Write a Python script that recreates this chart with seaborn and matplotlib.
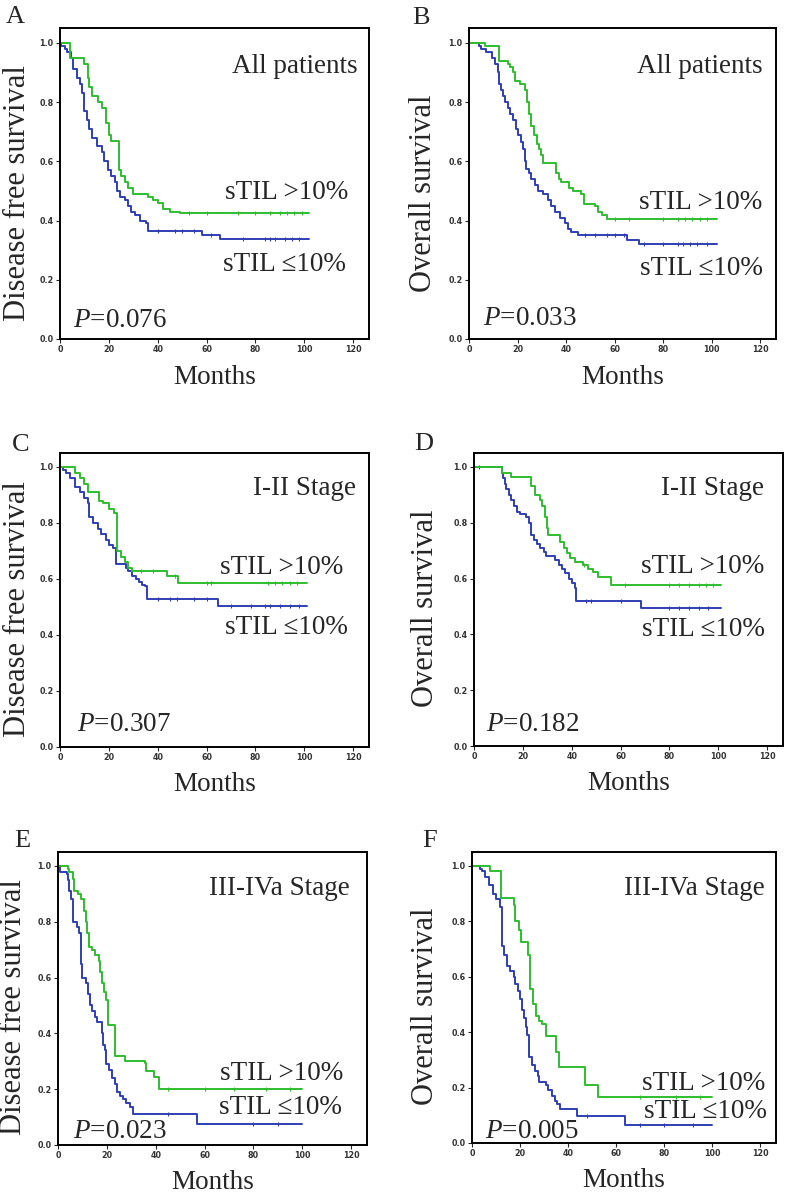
import numpy as np
import seaborn as sns
import matplotlib
import matplotlib.pyplot as plt
matplotlib.use('Agg')

# ---- data (months, survival fraction) ----
# A: all patients, disease free survival
a_hi_t = [0, 4, 10, 11.5, 12, 13, 15.5, 17, 19, 20, 21, 24, 25, 26.5, 28, 30, 36, 38, 40, 42, 45, 49, 102]
a_hi_s = [1.0, 0.95, 0.93, 0.88, 0.85, 0.82, 0.80, 0.78, 0.73, 0.69, 0.67, 0.57, 0.55, 0.53, 0.51, 0.49,
          0.48, 0.47, 0.46, 0.44, 0.43, 0.424, 0.424]
a_lo_t = [0, 0.5, 2, 3, 4.6, 5.3, 7, 8, 9, 10, 11, 12, 13, 15, 17, 18, 19.7, 21, 22.4, 23.3, 24.4, 26.5,
          28, 29, 30.6, 32.6, 35.4, 36, 58, 65.4, 102]
a_lo_s = [1.0, 0.99, 0.98, 0.97, 0.95, 0.91, 0.88, 0.86, 0.83, 0.77, 0.74, 0.71, 0.68, 0.65, 0.63, 0.60,
          0.57, 0.55, 0.53, 0.50, 0.48, 0.47, 0.45, 0.43, 0.42, 0.40, 0.39, 0.366, 0.35, 0.336, 0.336]
a_hi_c = [53, 60, 73, 80, 86, 90, 93, 96, 99]
a_lo_c = [40, 47, 50, 55, 62, 75, 84, 86, 88, 92, 95, 98]

# B: all patients, overall survival
b_hi_t = [0, 6.5, 12.3, 16, 17, 18, 19, 21, 23, 24, 24.6, 25.4, 26.8, 28, 29, 29.8, 30.5, 36, 37, 38,
          41, 43, 46, 47.5, 52, 53, 55, 57, 102]
b_hi_s = [1.0, 0.99, 0.94, 0.93, 0.92, 0.90, 0.87, 0.86, 0.84, 0.80, 0.76, 0.72, 0.69, 0.66, 0.64, 0.62,
          0.595, 0.56, 0.54, 0.53, 0.51, 0.50, 0.49, 0.455, 0.45, 0.43, 0.42, 0.405, 0.405]
b_lo_t = [0, 4, 5, 7, 9.3, 10.7, 12, 12.3, 13, 14, 14.8, 16, 17, 18, 19.2, 20.2, 21.6, 22.3, 23, 23.6,
          24.6, 25.7, 27, 28.4, 30.5, 32.5, 33.9, 35.3, 37.3, 39.4, 40.7, 42, 44.8, 65.3, 70, 102]
b_lo_s = [1.0, 0.99, 0.98, 0.97, 0.95, 0.93, 0.90, 0.86, 0.84, 0.82, 0.80, 0.78, 0.76, 0.74, 0.71, 0.69,
          0.665, 0.64, 0.60, 0.575, 0.56, 0.54, 0.52, 0.50, 0.49, 0.47, 0.45, 0.43, 0.41, 0.39, 0.37, 0.36,
          0.35, 0.335, 0.32, 0.32]
b_hi_c = [60, 66, 80, 86, 89, 92, 95, 98]
b_lo_c = [48, 52, 57, 60, 64, 72, 80, 86, 88, 91, 94, 98]

# C: stage I-II, disease free survival
c_hi_t = [0, 6, 8, 10, 11.3, 16, 17.7, 20, 22, 23.5, 25, 26.5, 28, 29.6, 44, 48.5, 101]
c_hi_s = [1.0, 0.98, 0.96, 0.94, 0.91, 0.88, 0.87, 0.85, 0.835, 0.70, 0.68, 0.66, 0.64, 0.63, 0.61,
          0.586, 0.586]
c_lo_t = [0, 1.2, 2.5, 4, 6, 8, 10, 11.3, 12, 13.4, 15.4, 16.7, 18.8, 20, 21.5, 23, 27, 28, 29.6, 31,
          32.5, 33.5, 35, 35.6, 64.7, 101]
c_lo_s = [1.0, 0.99, 0.98, 0.96, 0.93, 0.91, 0.89, 0.87, 0.82, 0.80, 0.78, 0.76, 0.74, 0.72, 0.71, 0.655,
          0.64, 0.63, 0.61, 0.60, 0.59, 0.58, 0.575, 0.53, 0.505, 0.505]
c_hi_c = [33, 38, 47, 60, 62, 85, 88, 91, 94, 97]
c_lo_c = [40, 45, 48, 55, 60, 70, 78, 84, 86, 90, 94, 98]

# D: stage I-II, overall survival
d_hi_t = [0, 11.3, 15, 23.5, 25, 27, 28, 29, 30, 30.3, 35.3, 36.7, 38, 39.4, 41.4, 44.8, 46.8, 48.8,
          50.8, 56.2, 101]
d_hi_s = [1.0, 0.98, 0.965, 0.93, 0.90, 0.88, 0.86, 0.82, 0.78, 0.755, 0.73, 0.71, 0.69, 0.675, 0.66,
          0.65, 0.635, 0.625, 0.605, 0.577, 0.577]
d_lo_t = [0, 11.3, 11.7, 12.5, 13, 14.4, 15.1, 16.4, 17.5, 18.9, 21.2, 22.5, 23.2, 24.5, 25.9, 27.2,
          28.6, 29.3, 33.3, 34.7, 36, 37.3, 38.7, 40, 41.4, 41.8, 68.4, 101]
d_lo_s = [1.0, 0.98, 0.96, 0.94, 0.92, 0.90, 0.88, 0.86, 0.84, 0.83, 0.82, 0.80, 0.755, 0.74, 0.725,
          0.71, 0.695, 0.68, 0.665, 0.65, 0.635, 0.62, 0.60, 0.585, 0.565, 0.52, 0.496, 0.496]
d_hi_c = [45, 62, 80, 84, 88, 92, 95, 98]
d_lo_c = [2, 46, 48, 60, 80, 84, 88, 92, 96]

# E: stage III-IVa, disease free survival
e_hi_t = [0, 4, 4.7, 6, 6.7, 8, 9.3, 10.7, 11.3, 12, 12.7, 14, 15.3, 16.7, 17.3, 18, 19, 19.7, 20.3,
          23.3, 27.3, 35.5, 36, 39.3, 41.3, 100]
e_hi_s = [1.0, 0.99, 0.98, 0.955, 0.91, 0.90, 0.88, 0.84, 0.80, 0.76, 0.71, 0.70, 0.68, 0.66, 0.62,
          0.58, 0.55, 0.52, 0.43, 0.32, 0.30, 0.295, 0.265, 0.245, 0.20, 0.20]
e_lo_t = [0, 0.7, 3.5, 4, 4.7, 5.3, 6, 7.7, 8.7, 9.3, 9.6, 10, 11.3, 12.3, 13, 14, 15.3, 16, 18, 18.4,
          19.3, 19.7, 21, 22, 23.3, 24, 25.3, 26.7, 28, 29.3, 30.7, 57, 100]
e_lo_s = [1.0, 0.98, 0.97, 0.95, 0.91, 0.88, 0.80, 0.78, 0.76, 0.72, 0.65, 0.60, 0.58, 0.54, 0.50, 0.48,
          0.46, 0.44, 0.40, 0.36, 0.34, 0.29, 0.27, 0.24, 0.22, 0.19, 0.175, 0.165, 0.15, 0.135, 0.11,
          0.075, 0.075]
e_hi_c = [45, 60, 72, 85, 95]
e_lo_c = [45, 80, 90]

# F: stage III-IVa, overall survival
f_hi_t = [0, 7.3, 12, 17.4, 18, 19.4, 20.3, 23.4, 24, 24.3, 25.4, 26.5, 28, 29, 30.7, 35, 36.1, 47,
          52.4, 100]
f_hi_s = [1.0, 0.98, 0.885, 0.86, 0.80, 0.77, 0.725, 0.68, 0.62, 0.555, 0.50, 0.46, 0.44, 0.43, 0.386,
          0.33, 0.274, 0.208, 0.167, 0.167]
f_lo_t = [0, 3.3, 4, 5.3, 7, 8.7, 10, 11.8, 12.3, 13.4, 14.4, 16, 17.4, 18, 19, 20, 20.7, 21.6, 22.5,
          23, 23.8, 25.1, 26.1, 27.4, 28, 30.7, 31.8, 33.1, 34.5, 35.4, 36.7, 43.8, 63.5, 100]
f_lo_s = [1.0, 0.99, 0.98, 0.96, 0.93, 0.90, 0.88, 0.85, 0.71, 0.68, 0.64, 0.62, 0.60, 0.575, 0.55,
          0.52, 0.48, 0.45, 0.42, 0.39, 0.31, 0.28, 0.26, 0.24, 0.22, 0.21, 0.19, 0.17, 0.15, 0.14, 0.124,
          0.097, 0.065, 0.065]
f_hi_c = [70, 85, 95]
f_lo_c = [48, 70, 80, 92]

letters = ['A', 'B', 'C', 'D', 'E', 'F']
ylabels = ['Disease free survival', 'Overall survival'] * 3
groups = ['All patients', 'All patients', 'I-II Stage', 'I-II Stage', 'III-IVa Stage', 'III-IVa Stage']
pvalues = ['0.076', '0.033', '0.307', '0.182', '0.023', '0.005']
xticks = [0, 20, 40, 60, 80, 100, 120]
yticks = [0.0, 0.2, 0.4, 0.6, 0.8, 1.0]

curves = [
    (a_hi_t, a_hi_s, a_hi_c, a_lo_t, a_lo_s, a_lo_c),
    (b_hi_t, b_hi_s, b_hi_c, b_lo_t, b_lo_s, b_lo_c),
    (c_hi_t, c_hi_s, c_hi_c, c_lo_t, c_lo_s, c_lo_c),
    (d_hi_t, d_hi_s, d_hi_c, d_lo_t, d_lo_s, d_lo_c),
    (e_hi_t, e_hi_s, e_hi_c, e_lo_t, e_lo_s, e_lo_c),
    (f_hi_t, f_hi_s, f_hi_c, f_lo_t, f_lo_s, f_lo_c),
]

# layout (pixels in the 787x1202 figure): axes box left, right, top, bottom
boxes = [(60, 369, 28, 339), (469, 776, 28, 339),
         (60, 369, 453, 747), (474, 783, 453, 746),
         (58, 367, 852, 1145), (472, 776, 852, 1143)]
letter_xy = [(6, 23), (412, 24), (12, 451), (414, 450), (14, 847), (422, 847)]
ylab_x = [-0.09, -0.10, -0.09, -0.11, -0.097, -0.105]
# text positions in axes fractions: group label, sTIL>10, sTIL<=10, P value
group_xy = [(0.964, 0.875), (0.958, 0.875), (0.958, 0.88), (0.94, 0.88), (0.945, 0.877), (0.964, 0.876)]
hi_xy = [(0.932, 0.47), (0.954, 0.44), (0.916, 0.612), (0.94, 0.611), (0.922, 0.245), (0.964, 0.206)]
lo_xy = [(0.925, 0.238), (0.958, 0.228), (0.932, 0.408), (0.94, 0.396), (0.92, 0.127), (0.97, 0.107)]
p_xy = [(0.042, 0.06), (0.046, 0.067), (0.055, 0.075), (0.039, 0.072), (0.05, 0.045), (0.043, 0.038)]

GREEN = '#2fbd2f'
BLUE = '#2f3fb3'
W, H = 787, 1202

sns.set_style('ticks')
plt.rcParams['font.family'] = ['Liberation Serif', 'DejaVu Serif']
plt.rcParams['mathtext.fontset'] = 'custom'
plt.rcParams['mathtext.rm'] = 'Liberation Serif'
plt.rcParams['mathtext.it'] = 'Liberation Serif:italic'

fig = plt.figure(figsize=(W / 100, H / 100), dpi=100)
serif = ['Liberation Serif', 'DejaVu Serif']


def censor_y(t, s, c):
    idx = np.searchsorted(t, c, side='right') - 1
    return np.asarray(s)[idx]


for i in range(6):
    l, r, top, bot = boxes[i]
    ax = fig.add_axes([l / W, 1 - bot / H, (r - l) / W, (bot - top) / H])
    hi_t, hi_s, hi_c, lo_t, lo_s, lo_c = curves[i]

    sns.lineplot(x=lo_t, y=lo_s, ax=ax, color=BLUE, lw=1.4, drawstyle='steps-post',
                 estimator=None, sort=False)
    sns.lineplot(x=hi_t, y=hi_s, ax=ax, color=GREEN, lw=1.4, drawstyle='steps-post',
                 estimator=None, sort=False)
    sns.scatterplot(x=lo_c, y=censor_y(lo_t, lo_s, lo_c), ax=ax, marker='|', s=10,
                    color=BLUE, linewidth=0.8)
    sns.scatterplot(x=hi_c, y=censor_y(hi_t, hi_s, hi_c), ax=ax, marker='|', s=10,
                    color=GREEN, linewidth=0.8)

    ax.set_xlim(0, 126.5)
    ax.set_ylim(0, 1.05)
    ax.set_xticks(xticks)
    ax.set_yticks(yticks)
    ax.set_xticklabels([str(v) for v in xticks], fontsize=5.8, fontweight='bold',
                       family='DejaVu Sans', color='#333333')
    ax.set_yticklabels([f'{v:.1f}' for v in yticks], fontsize=5.8, fontweight='bold',
                       family='DejaVu Sans', color='#333333')
    ax.tick_params(direction='out', length=3, width=0.8, pad=1.5)
    for sp in ax.spines.values():
        sp.set_linewidth(1.4)
        sp.set_color('black')

    ax.set_xlabel('Months', fontsize=19.5, family=serif)
    ax.xaxis.set_label_coords(0.5, -0.085)
    ax.set_ylabel(ylabels[i], fontsize=22, family=serif)
    ax.yaxis.set_label_coords(ylab_x[i], 0.47)

    ax.text(*group_xy[i], groups[i], transform=ax.transAxes, ha='right', va='center',
            fontsize=19.5, family=serif)
    ax.text(*hi_xy[i], 'sTIL >10%', transform=ax.transAxes, ha='right', va='center',
            fontsize=19.5, family=serif)
    ax.text(*lo_xy[i], 'sTIL \u226410%', transform=ax.transAxes, ha='right', va='center',
            fontsize=19.5, family=serif)
    ax.text(*p_xy[i], r'$P$=' + pvalues[i], transform=ax.transAxes, ha='left', va='center',
            fontsize=19.5, family=serif)

    fig.text(letter_xy[i][0] / W, 1 - letter_xy[i][1] / H, letters[i], fontsize=19,
             family=serif, ha='left', va='baseline')

fig.savefig('out.png', dpi=100)
